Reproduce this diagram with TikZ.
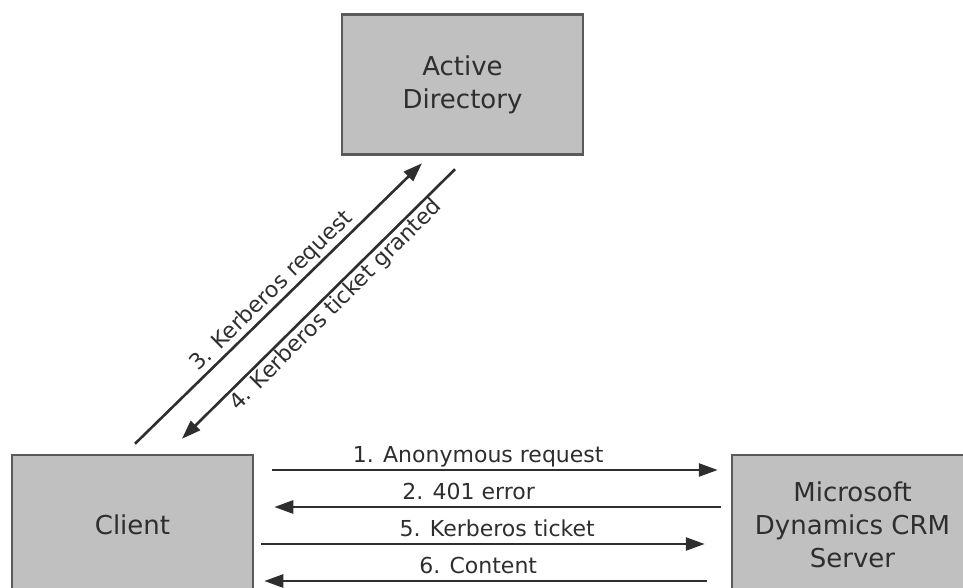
\documentclass[tikz,border=0pt]{standalone}
\usepackage{fontspec}
\setmainfont{DejaVu Sans}
\usetikzlibrary{arrows.meta, positioning}

\definecolor{boxgray}{HTML}{C0C0C0}
\definecolor{edgegray}{HTML}{5A5A5A}
\definecolor{inkgray}{HTML}{2E2E2E}

\begin{document}
\begin{tikzpicture}[x=1pt, y=-1pt, >={Triangle[length=19pt, width=13pt]},
    box/.style={draw=edgegray, fill=boxgray, line width=2.5pt, rectangle,
        minimum width=241pt, minimum height=140pt, inner sep=0pt,
        align=center, text=inkgray, font=\fontsize{26}{33}\selectfont},
    msg/.style={text=inkgray, font=\fontsize{22}{26}\selectfont,
        text height=17pt, text depth=5pt, inner sep=1pt},
    flow/.style={->, draw=inkgray, line width=2.6pt}]

	\clip (0,0) rectangle (963,588);

    	% Define nodes
	    \node (ad) [box] at (462.5,84.5) {Active\\Directory};
    	\node (client) [box] at (132.5,525) {Client};
	    \node (crm) [box] at (852.5,525) {Microsoft\\Dynamics CRM\\Server};

	    % Draw arrows
    	\draw[flow, shorten <=18pt, shorten >=13pt] ([yshift=55pt]client.east) -- node[msg, above, pos=0.47] {1. Anonymous request} ([yshift=55pt]crm.west);
	    \draw[flow, shorten <=10pt, shorten >=20pt] ([yshift=18pt]crm.west) -- node[msg, above, pos=0.55] {2. 401 error} ([yshift=18pt]client.east);
    	\draw[flow, shorten <=7pt, shorten >=26pt] ([yshift=-19pt]client.east) -- node[msg, above, pos=0.51] {5. Kerberos ticket} ([yshift=-19pt]crm.west);
	    \draw[flow, shorten <=24pt, shorten >=10pt] ([yshift=-56pt]crm.west) -- node[msg, above, pos=0.53] {6. Content} ([yshift=-56pt]client.east);

    	\draw[flow] ([xshift=2.5pt, yshift=10pt]client.north) -- node[msg, rotate=44.6, anchor=south, pos=0.51] {3. Kerberos request} ([xshift=-40.5pt, yshift=-7.5pt]ad.south);
	    \draw[flow] ([xshift=-7.5pt, yshift=-13.5pt]ad.south) -- node[msg, rotate=44.9, anchor=north, pos=0.47] {4. Kerberos ticket granted} ([xshift=49.5pt, yshift=15pt]client.north);

	\end{tikzpicture}
\end{document}
